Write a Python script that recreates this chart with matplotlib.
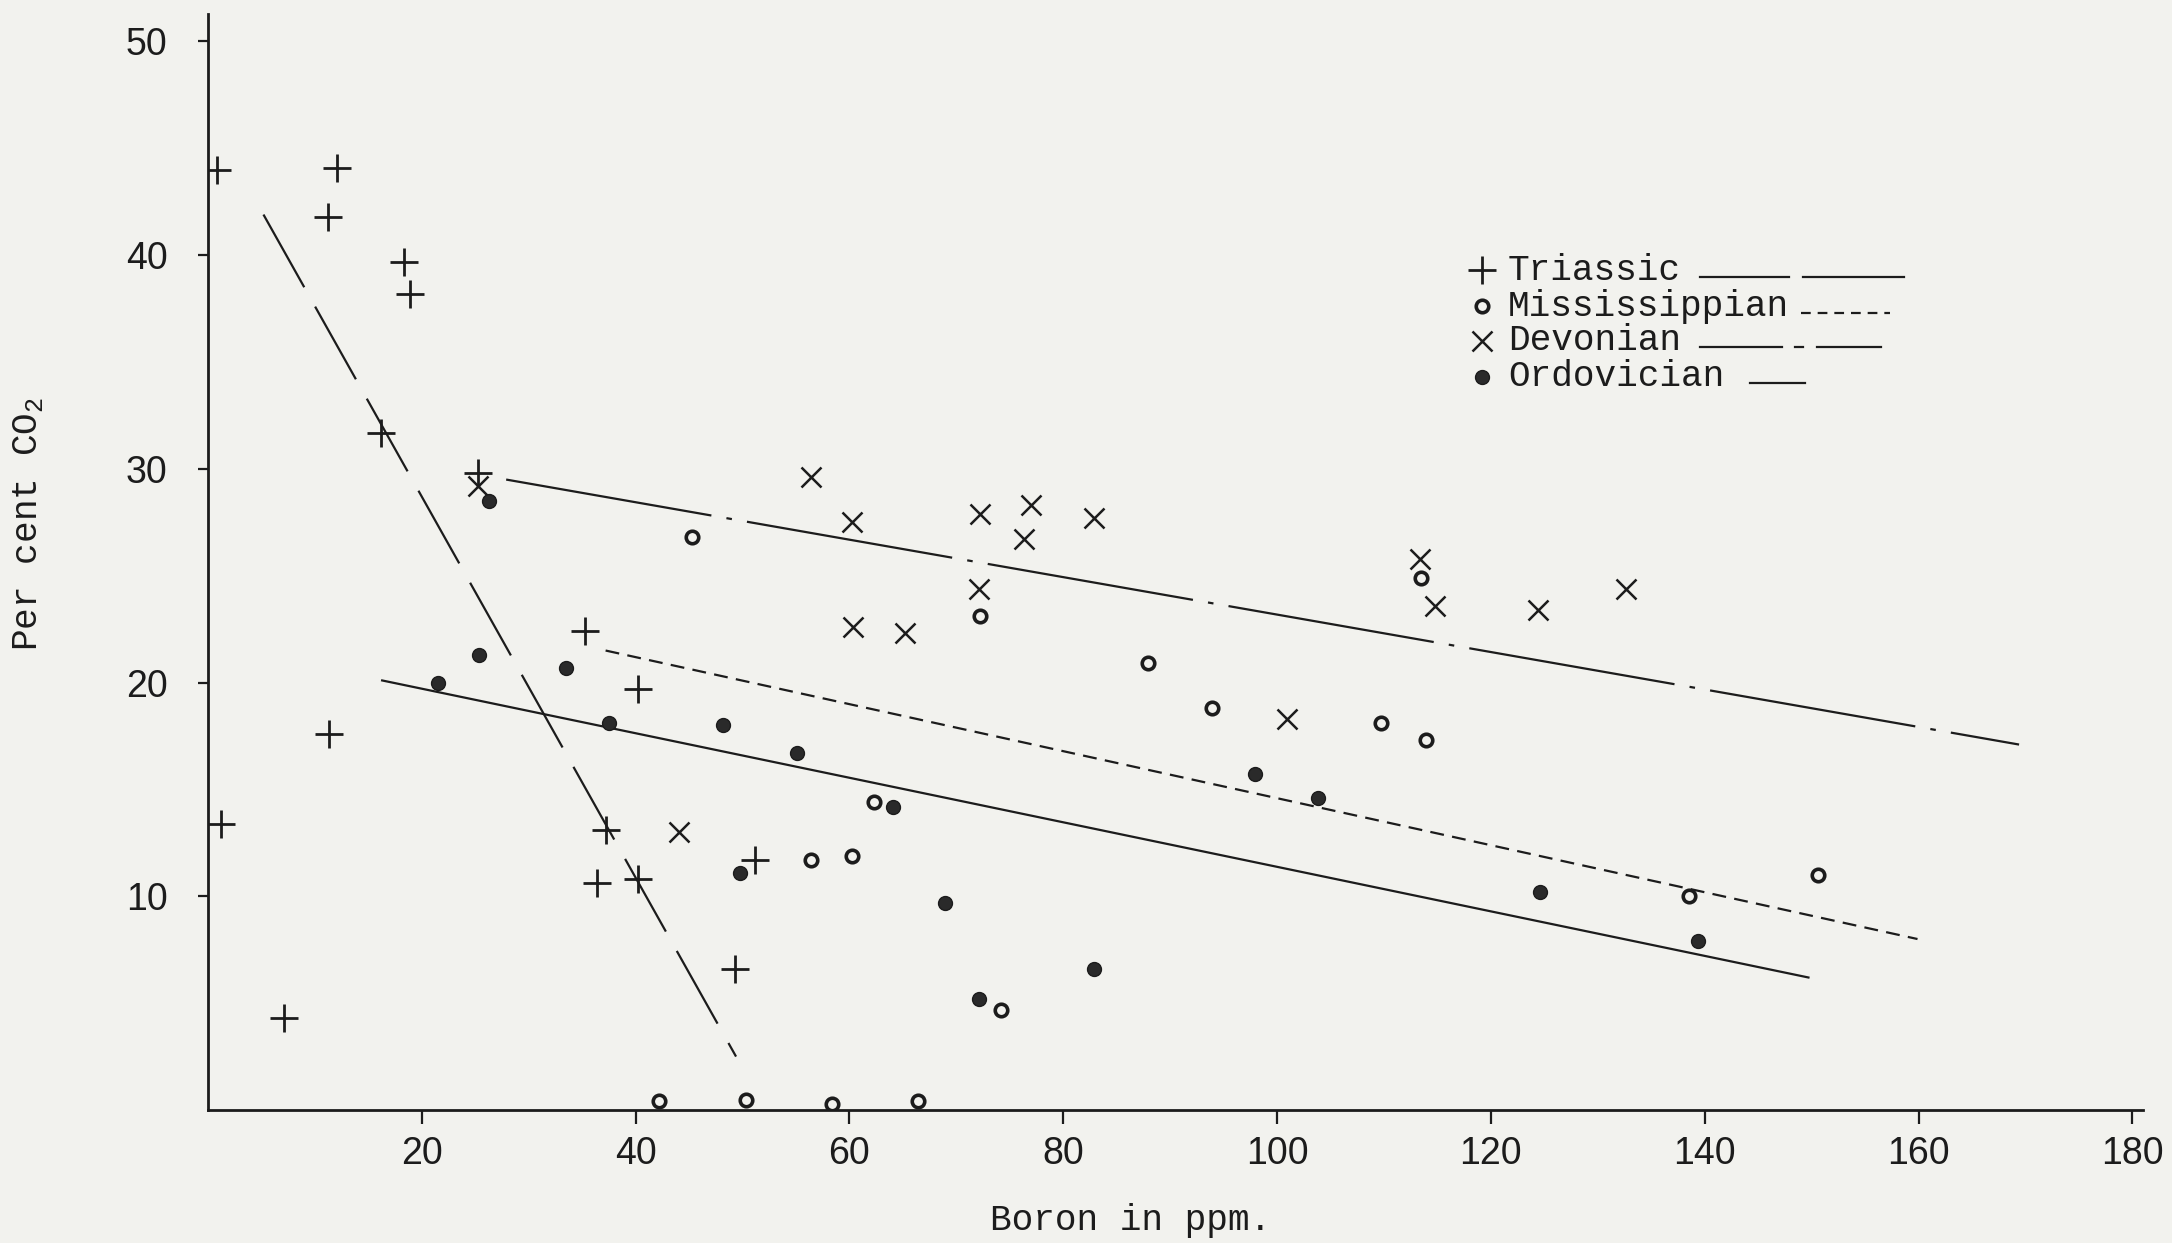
import matplotlib
matplotlib.use("Agg")
import matplotlib.pyplot as plt

plt.rcParams['lines.scale_dashes'] = False
plt.rcParams['mathtext.fontset'] = 'custom'
plt.rcParams['mathtext.rm'] = 'Liberation Mono'

# ---- data (Boron ppm, per cent CO2) ----
triassic_x = [0.9, 12.1, 11.2, 18.3, 18.9, 16.2, 25.3, 35.3, 40.2, 11.3, 1.2, 37.2, 36.4, 40.2, 51.2, 49.3, 7.1]
triassic_y = [44.0, 44.1, 41.8, 39.7, 38.2, 31.7, 29.8, 22.4, 19.7, 17.6, 13.4, 13.1, 10.6, 10.8, 11.7, 6.6, 4.3]

miss_x = [45.3, 72.2, 87.9, 93.9, 109.7, 113.9, 113.5, 62.3, 56.4, 60.2, 74.2, 138.5, 150.6, 42.2, 50.3, 58.4, 66.4]
miss_y = [26.8, 23.1, 20.9, 18.8, 18.1, 17.3, 24.9, 14.4, 11.7, 11.9, 4.7, 10.0, 11.0, 0.4, 0.45, 0.3, 0.4]

dev_x = [25.3, 56.4, 60.2, 72.2, 77.0, 76.3, 82.9, 72.1, 60.3, 65.2, 113.4, 114.8, 124.4, 132.6, 100.9, 44.1]
dev_y = [29.2, 29.6, 27.5, 27.9, 28.3, 26.7, 27.7, 24.4, 22.6, 22.3, 25.8, 23.6, 23.4, 24.4, 18.3, 13.0]

ord_x = [26.3, 25.4, 21.5, 33.5, 37.5, 48.2, 55.1, 64.1, 49.8, 68.9, 72.1, 82.9, 97.9, 103.8, 124.6, 139.4]
ord_y = [28.5, 21.3, 20.0, 20.7, 18.1, 18.0, 16.7, 14.2, 11.1, 9.7, 5.2, 6.6, 15.7, 14.6, 10.2, 7.9]

# fitted trend lines (end points)
triassic_line_x = [5.2, 49.4]
triassic_line_y = [41.9, 2.5]
miss_line_x = [37.2, 159.9]
miss_line_y = [21.5, 8.0]
dev_line_x = [27.9, 169.4]
dev_line_y = [29.5, 17.1]
ord_line_x = [16.3, 149.7]
ord_line_y = [20.1, 6.2]

series_names = ["Triassic", "Mississippian", "Devonian", "Ordovician"]
x_ticks = [20, 40, 60, 80, 100, 120, 140, 160, 180]
y_ticks = [10, 20, 30, 40, 50]

# ---- styling ----
bg = '#f2f2ee'
ink = '#1c1c1c'
mono = ['Liberation Mono', 'DejaVu Sans Mono']
narrow = ['Liberation Sans Narrow', 'Liberation Sans', 'DejaVu Sans']

fig = plt.figure(figsize=(21.72, 12.43), dpi=100, facecolor=bg)
ax = fig.add_axes([0.0957, 0.107, 0.891, 0.882])
ax.set_facecolor(bg)

dash_tri = (0, (60, 16))
dash_miss = (0, (10, 6))
dash_dev = (0, (150, 11, 4, 11))
solid = '-'

lw = 1.6
ax.plot(triassic_line_x, triassic_line_y, color=ink, lw=lw, linestyle=dash_tri)
ax.plot(miss_line_x, miss_line_y, color=ink, lw=lw, linestyle=dash_miss)
ax.plot(dev_line_x, dev_line_y, color=ink, lw=lw, linestyle=dash_dev)
ax.plot(ord_line_x, ord_line_y, color=ink, lw=lw, linestyle=solid)

mk_tri = dict(marker='+', ms=20, mew=2.0, color=ink)
mk_miss = dict(marker='o', ms=9, mew=2.6, mfc=bg, mec=ink)
mk_dev = dict(marker='x', ms=14, mew=1.8, color=ink)
mk_ord = dict(marker='o', ms=10, mew=1.0, mfc='#2a2a2a', mec=ink)

ax.plot(triassic_x, triassic_y, linestyle='none', **mk_tri)
ax.plot(miss_x, miss_y, linestyle='none', **mk_miss)
ax.plot(dev_x, dev_y, linestyle='none', **mk_dev)
ax.plot(ord_x, ord_y, linestyle='none', **mk_ord)

# ---- hand-drawn style legend ----
leg_markers = [mk_tri, mk_miss, mk_dev, mk_ord]
leg_rows_y = [39.3, 37.6, 36.0, 34.3]
leg_marker_x = 119.2
leg_text_x = 121.6
for name, my, mk in zip(series_names, leg_rows_y, leg_markers):
    ax.plot([leg_marker_x], [my], linestyle='none', **mk)
    ax.text(leg_text_x, my, name, family=mono, fontsize=26,
            color=ink, va='center', ha='left')
# line samples
ax.plot([139.6, 147.9], [39.0, 39.0], color=ink, lw=lw)
ax.plot([149.2, 158.6], [39.0, 39.0], color=ink, lw=lw)
ax.plot([149.0, 157.3], [37.3, 37.3], color=ink, lw=lw, linestyle=(0, (7, 5)))
ax.plot([139.6, 147.2], [35.7, 35.7], color=ink, lw=lw)
ax.plot([148.4, 149.2], [35.7, 35.7], color=ink, lw=lw)
ax.plot([150.5, 156.5], [35.7, 35.7], color=ink, lw=lw)
ax.plot([144.2, 149.4], [34.0, 34.0], color=ink, lw=lw)

# ---- axes ----
ax.set_xlim(0, 181)
ax.set_ylim(0, 51.3)
ax.spines['top'].set_visible(False)
ax.spines['right'].set_visible(False)
for s in ('left', 'bottom'):
    ax.spines[s].set_linewidth(2.0)
    ax.spines[s].set_color(ink)

ax.set_xticks(x_ticks)
ax.set_xticklabels([str(v) for v in x_ticks], family=narrow, fontsize=27, color=ink)
ax.set_yticks(y_ticks)
ax.set_yticklabels([str(v) for v in y_ticks], family=narrow, fontsize=27, color=ink)
ax.tick_params(axis='x', direction='out', length=10, width=1.6, pad=9, colors=ink)
ax.tick_params(axis='y', direction='out', length=7, width=1.6, pad=22, colors=ink)

ax.set_xlabel('Boron in ppm.', family=mono, fontsize=26, color=ink)
ax.xaxis.set_label_coords(0.477, -0.085)
ax.set_ylabel(r'Per cent CO$_{\mathregular{2}}$', family=mono, fontsize=26, color=ink)
ax.yaxis.set_label_coords(-0.084, 0.535)

fig.savefig('out.png', dpi=100, facecolor=bg)
